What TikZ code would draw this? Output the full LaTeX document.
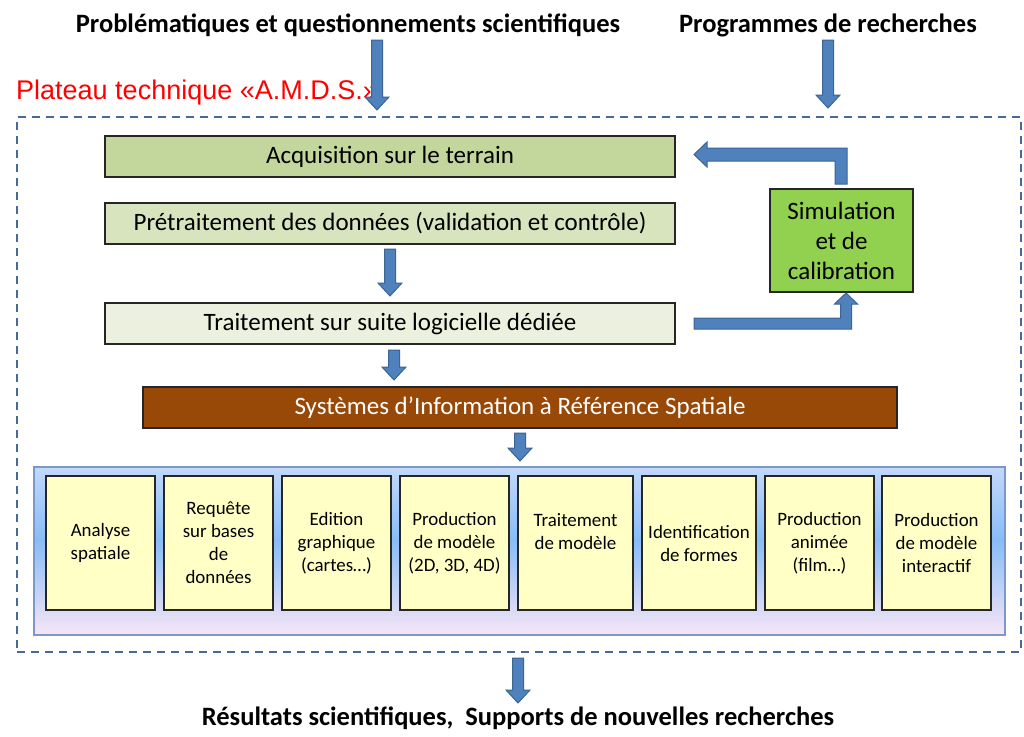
\documentclass[tikz,border=0pt]{standalone}
\usepackage{fontspec}
\setmainfont{Carlito}
\newfontfamily\arialf{Liberation Sans}
\usetikzlibrary{calc}
\definecolor{arrowfill}{HTML}{4F81BD}
\definecolor{arrowline}{HTML}{3A6595}
\definecolor{dashcol}{HTML}{46689A}
\definecolor{acqcol}{HTML}{C3D69B}
\definecolor{precol}{HTML}{D7E4BD}
\definecolor{tracol}{HTML}{EBF1DE}
\definecolor{simcol}{HTML}{92D050}
\definecolor{sirscol}{HTML}{984807}
\definecolor{yelcol}{HTML}{FFFFC6}
\definecolor{pantop}{HTML}{C2D8FB}
\definecolor{panmid}{HTML}{88BCF7}
\definecolor{panbot}{HTML}{F7E6F6}
\definecolor{panline}{HTML}{7A98C8}
\definecolor{boxline}{HTML}{262626}
\newcommand\blockdown[2]{%
  \draw[barrow] ($(#1)+(-5.5,0)$) -- ($(#2)+(-5.5,-13)$) -- ($(#2)+(-12,-13)$) -- (#2)
    -- ($(#2)+(12,-13)$) -- ($(#2)+(5.5,-13)$) -- ($(#1)+(5.5,0)$) -- cycle;}
\begin{document}
\begin{tikzpicture}[x=1pt,y=-1pt,
  barrow/.style={fill=arrowfill,draw=arrowline,line width=1pt,line join=miter},
  titletext/.style={font=\fontsize{26.5}{31}\selectfont\bfseries,inner sep=0pt},
  mainbox/.style={draw=boxline,line width=1.4pt,inner sep=0pt,outer sep=0pt,anchor=north west,
    minimum height=41pt,font=\fontsize{25}{30}\selectfont},
  smallbox/.style={draw=boxline,line width=1.4pt,fill=yelcol,inner sep=0pt,outer sep=0pt,anchor=north west,
    minimum height=134pt,align=center,font=\fontsize{18.9}{23}\selectfont}]
\useasboundingbox (0,0) rectangle (1024,736);
\fill[white] (0,0) rectangle (1024,736);

% titles
\node[titletext] (t1) at (348,25) {Problématiques et questionnements scientifiques};
\node[titletext] (t2) at (828,25) {Programmes de recherches};
\node[titletext] (t3) at (518,718) {Résultats scientifiques,~~Supports de nouvelles recherches};
\node[anchor=west,inner sep=0pt,text=red,font=\arialf\fontsize{27}{31}\selectfont] (lab) at (16,93) {Plateau technique «A.M.D.S.»};

% dashed platform
\node[draw=dashcol,line width=2pt,dash pattern=on 8pt off 6pt,anchor=north west,inner sep=0pt,outer sep=0pt,
  minimum width=1004pt,minimum height=535pt] (plat) at (17,117) {};

% main boxes
\node[mainbox,fill=acqcol,minimum width=570pt] (acq) at (105,136) {Acquisition sur le terrain};
\node[mainbox,fill=precol,minimum width=570pt] (pre) at (105,203) {Prétraitement des données (validation et contrôle)};
\node[mainbox,fill=tracol,minimum width=570pt] (tra) at (105,303) {Traitement sur suite logicielle dédiée};
\node[mainbox,fill=simcol,minimum width=143pt,minimum height=103pt,align=center,
  font=\fontsize{25}{30}\selectfont] (sim) at (770,189) {Simulation\\et de\\calibration};
\node[mainbox,fill=sirscol,text=white,minimum width=754pt] (sirs) at (143,387) {Systèmes d’Information à Référence Spatiale};

% panel (gradient drawn as strips)
\foreach \i in {0,...,167}{
  \pgfmathtruncatemacro\yy{467+\i}
  \ifnum\yy<540
    \pgfmathtruncatemacro\pc{100*(\yy-467)/73}
    \colorlet{stripcol}{panmid!\pc!pantop}
  \else
    \pgfmathtruncatemacro\pc{100*(\yy-540)/95}
    \colorlet{stripcol}{panbot!\pc!panmid}
  \fi
  \fill[stripcol] (34,\yy) rectangle (1005,\yy+1.3);
}
\node[draw=panline,line width=1.3pt,anchor=north west,inner sep=0pt,outer sep=0pt,
  minimum width=971pt,minimum height=168pt] (panel) at (34,467) {};

\node[smallbox,minimum width=109pt] (b1) at (46,476) {Analyse\\spatiale};
\node[smallbox,minimum width=109pt] (b2) at (164,476) {Requête\\sur bases\\de\\données};
\node[smallbox,minimum width=109pt] (b3) at (282,476) {Edition\\graphique\\(cartes…)};
\node[smallbox,minimum width=109pt] (b4) at (400,476) {Production\\de modèle\\(2D, 3D, 4D)};
\node[smallbox,minimum width=115pt] (b5) at (518,476) {Traitement\\de modèle\\\mbox{}};
\node[smallbox,minimum width=114pt] (b6) at (642,476) {Identification\\de formes};
\node[smallbox,minimum width=109pt] (b7) at (765,476) {Production\\animée\\(film…)};
\node[smallbox,minimum width=109pt] (b8) at (882,476) {Production\\de modèle\\interactif};

% connector end points
\coordinate (a1s) at (377,40);  \coordinate (a1e) at (377,110);
\coordinate (a2s) at (828,40);  \coordinate (a2e) at (828,108);
\coordinate (a3s) at ($(pre.south -| 390,0)+(0,5)$);  \coordinate (a3e) at ($(tra.north -| 390,0)+(0,-7)$);
\coordinate (a4s) at ($(tra.south -| 394,0)+(0,6)$);  \coordinate (a4e) at ($(sirs.north -| 394,0)+(0,-7)$);
\coordinate (a5s) at ($(sirs.south -| 520,0)+(0,5)$); \coordinate (a5e) at ($(panel.north -| 520,0)+(0,-6)$);
\coordinate (a6s) at ($(plat.south -| 518,0)+(0,6)$); \coordinate (a6e) at (518,703);

\blockdown{a1s}{a1e}
\blockdown{a2s}{a2e}
\blockdown{a3s}{a3e}
\blockdown{a4s}{a4e}
\blockdown{a5s}{a5e}
\blockdown{a6s}{a6e}

% feedback: simulation -> acquisition
\coordinate (f1s) at ($(sim.north -| 841,0)+(0,-5)$);
\coordinate (f1e) at ($(acq.east)+(19,0)$);
\draw[barrow] ($(f1s)+(-6,0)$) -- (835,161) -- (707,161) -- (707,167) -- (694,154.5)
  -- (707,142) -- (707,148) -- (847,148) -- ($(f1s)+(6,0)$) -- cycle;

% traitement -> simulation
\coordinate (f2s) at ($(tra.east)+(19,0)$);
\coordinate (f2e) at ($(sim.south -| 846,0)+(0,1)$);
\draw[barrow] (694,318) -- (840.5,318) -- (840.5,304) -- (834.5,304) -- (f2e)
  -- (857.5,304) -- (851.5,304) -- (851.5,329) -- (694,329) -- cycle;
\end{tikzpicture}
\end{document}
